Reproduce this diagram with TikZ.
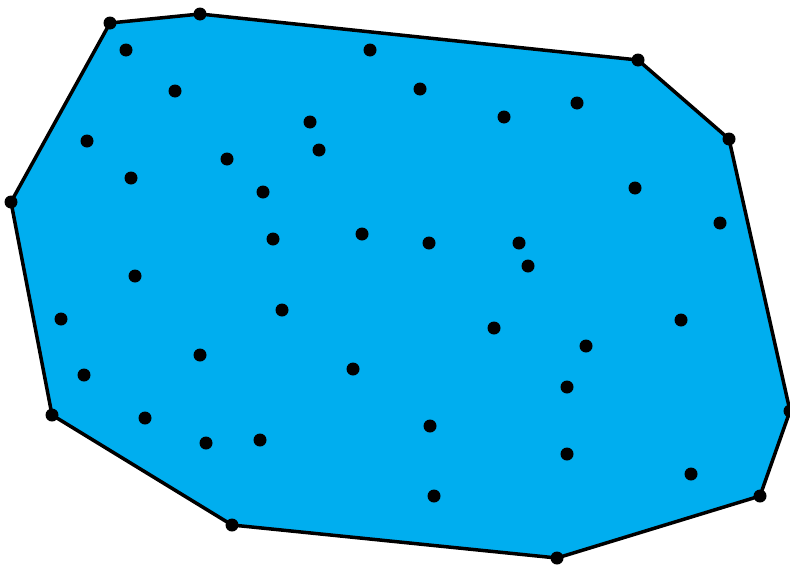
\documentclass[tikz,border=0pt]{standalone}
\definecolor{hullfill}{HTML}{00AEEF}
\tikzset{dot/.style={circle,fill=black,inner sep=0pt,minimum size=13pt},
hull/.style={draw=black,line width=3.5pt,fill=hullfill,line join=round}}
\begin{document}
\begin{tikzpicture}[x=1pt,y=-1pt]
\useasboundingbox (0,0) rectangle (790,565);
\begin{scope}
\clip (0,0) rectangle (790,565);
\foreach \n/\x/\y in {h1/110/23,h2/200/14,h3/638/60,h4/729/139,h5/790/411,h6/760/496,h7/557/558,h8/232/525,h9/52/415,h10/11/202}
  \coordinate (\n) at (\x,\y);
\draw[hull] (h1) -- (h2) -- (h3) -- (h4) -- (h5) -- (h6) -- (h7) -- (h8) -- (h9) -- (h10) -- cycle;
\foreach \n in {h1,h2,h3,h4,h5,h6,h7,h8,h9,h10}
  \node[dot] at (\n) {};
\foreach \x/\y [count=\i] in {126/50,370/50,175/91,420/89,310/122,504/117,577/103,87/141,319/150,227/159,131/178,263/192,635/188,720/223,273/239,362/234,429/243,519/243,528/266,135/276,282/310,61/319,681/320,494/328,586/346,200/355,84/375,353/369,567/387,145/418,260/440,206/443,430/426,567/454,691/474,434/496}
  \node[dot] (p\i) at (\x,\y) {};
\end{scope}
\end{tikzpicture}
\end{document}
